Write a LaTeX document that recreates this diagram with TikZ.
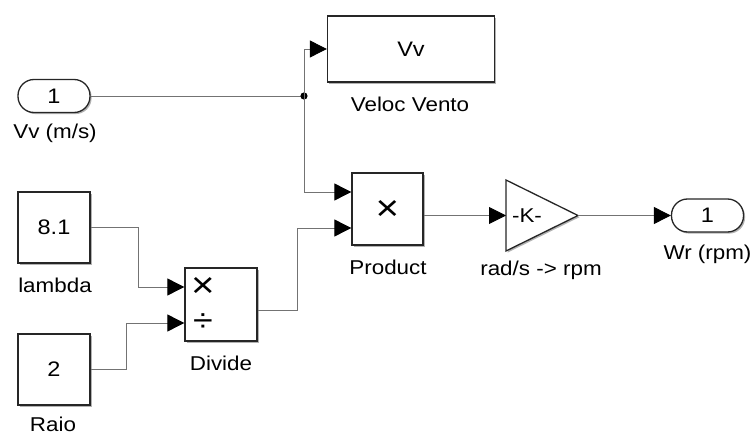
\documentclass[tikz,border=0pt]{standalone}
\usepackage{fontspec}
\setmainfont{Liberation Sans}[FakeStretch=1.12]
\usetikzlibrary{arrows.meta,shadows,calc}
\begin{document}
\begin{tikzpicture}[x=1pt,y=-1pt,
  blk/.style={draw=black!85, line width=1.3pt, fill=white, inner sep=0pt,
    general shadow={fill=black!30, shadow xshift=1.6pt, shadow yshift=-1.6pt},
    font=\fontsize{21}{24}\selectfont},
  port/.style={blk, rounded corners=16pt, minimum width=72pt, minimum height=33pt},
  sig/.style={draw=black!55, line width=0.9pt},
  arr/.style={sig, -{Triangle[length=17pt,width=17pt,color=black]}},
  lbl/.style={font=\fontsize{20}{24}\selectfont, inner sep=0pt},
  op/.style={font=\fontsize{36}{40}\selectfont, inner sep=0pt}
]
\useasboundingbox (0,0) rectangle (756,436);

% blocks
\node[port] (in1) at (54,96) {1};
\node[lbl] (in1l) at (55,133) {Vv (m/s)};

\node[blk, minimum width=167pt, minimum height=66pt] (vv) at (411,49) {Vv};
\node[lbl] (vvl) at (410,104) {Veloc Vento};

\node[blk, minimum width=71pt, minimum height=72pt] (prod) at (387.5,209) {};
\node[op] (prodx) at (387.5,210) {×};
\node[lbl] (prodl) at (388,267) {Product};

\node[blk, minimum width=72pt, minimum height=71pt] (c81) at (54,227.5) {8.1};
\node[lbl] (c81l) at (55,285) {lambda};

\node[blk, minimum width=72pt, minimum height=71pt] (c2) at (54,369.5) {2};
\node[lbl] (c2l) at (53,424.5) {Raio};

\node[blk, minimum width=72pt, minimum height=73pt] (div) at (221,304.5) {};
\node[op] (divx) at (203,287) {×};
\node[op, font=\fontsize{32}{36}\selectfont] (divd) at (203,323) {÷};
\node[lbl] (divl) at (221,363) {Divide};

\draw[blk] (506,180) -- (578,215.5) -- (506,251) -- cycle;
\coordinate (gin) at (506,215.5);
\coordinate (gout) at (578,215.5);
\node[font=\fontsize{20}{24}\selectfont, inner sep=0pt] (gk) at (527,215.5) {-K-};
\node[lbl] (gl) at (541,270) {rad/s -> rpm};

\node[port] (out1) at (707.5,215.5) {1};
\node[lbl] (out1l) at (707.5,254) {Wr (rpm)};

% connectors
\coordinate (j) at (304,96);
\draw[sig] (in1.east) -- (j);
\fill (j) circle (3.6pt);
\draw[arr] (j) |- (vv.west);
\draw[arr] (j) |- ([yshift=17pt]prod.west);
\draw[arr] (c81.east) -| (138,287) -- ([yshift=17.5pt]div.west);
\draw[arr] (c2.east) -| (126,323) -- ([yshift=-18.5pt]div.west);
\draw[arr] ([yshift=-5.5pt]div.east) -| (297,228) -- ([yshift=-19pt]prod.west);
\draw[arr] ([yshift=-6.5pt]prod.east) -- (gin);
\draw[arr] (gout) -- (out1.west);
\end{tikzpicture}
\end{document}
